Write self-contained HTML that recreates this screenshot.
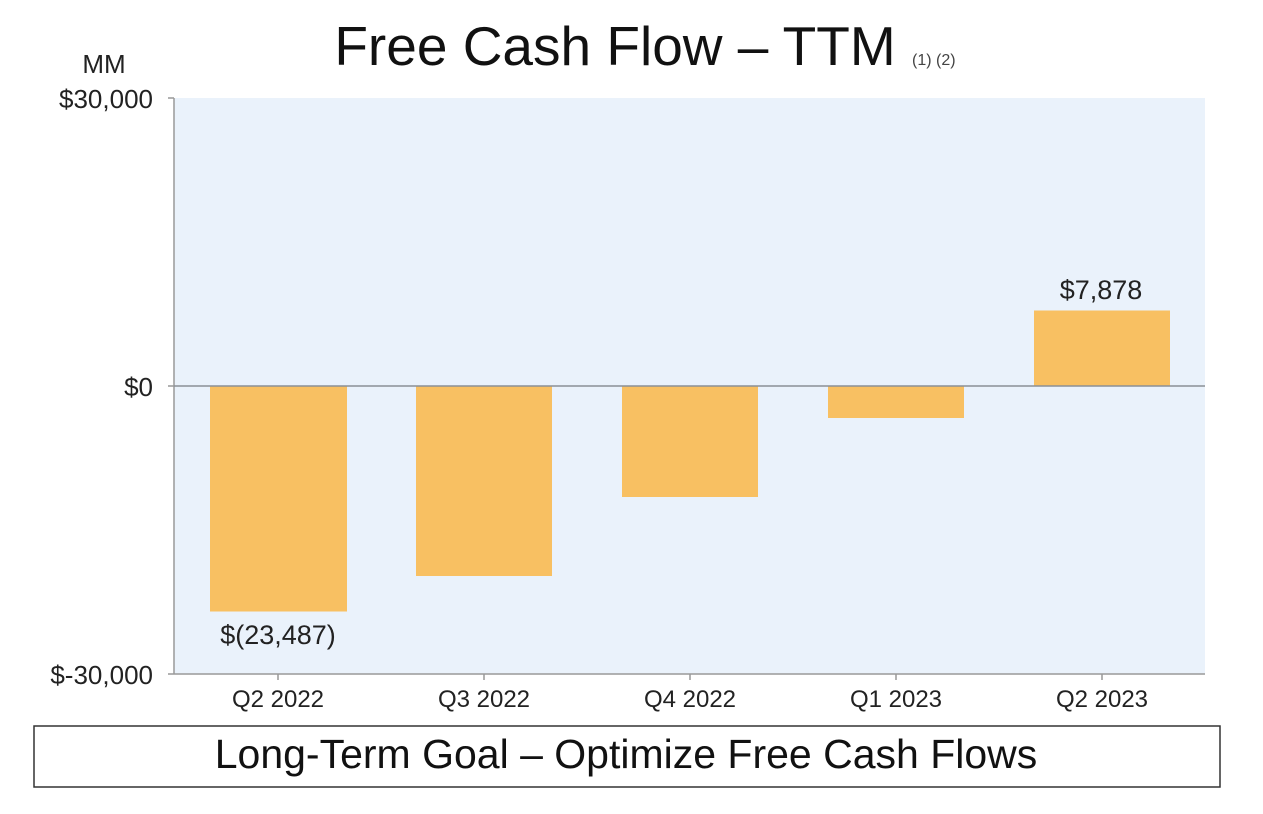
<!DOCTYPE html>
<html><head><meta charset="utf-8"><style>
html,body{margin:0;padding:0;background:#fff;}
svg{display:block;font-family:"Liberation Sans",Arial,sans-serif;}
</style></head><body>
<svg width="1263" height="814" viewBox="0 0 1263 814" xmlns="http://www.w3.org/2000/svg">
<rect x="0" y="0" width="1263" height="814" fill="#fff"/>
<text x="615" y="65" font-size="55" text-anchor="middle" fill="#111">Free Cash Flow – TTM</text>
<text x="912" y="65" font-size="16" fill="#444">(1) (2)</text>
<text x="104" y="73" font-size="26" text-anchor="middle" fill="#222">MM</text>
<rect x="174" y="98" width="1031" height="576" fill="#eaf2fb"/>
<line x1="174" y1="98" x2="174" y2="674" stroke="#999" stroke-width="1.5"/>
<line x1="168" y1="98" x2="174" y2="98" stroke="#999" stroke-width="1.5"/>
<line x1="168" y1="386" x2="174" y2="386" stroke="#999" stroke-width="1.5"/>
<line x1="168" y1="674" x2="1205" y2="674" stroke="#999" stroke-width="1.5"/>
<text x="153" y="108" font-size="26" text-anchor="end" fill="#222">$30,000</text>
<text x="153" y="396" font-size="26" text-anchor="end" fill="#222">$0</text>
<text x="153" y="684" font-size="26" text-anchor="end" fill="#222">$-30,000</text>
<g fill="#f8c062">
<rect x="210" y="386" width="137" height="225.5"/>
<rect x="416" y="386" width="136" height="190"/>
<rect x="622" y="386" width="136" height="111"/>
<rect x="828" y="386" width="136" height="32"/>
<rect x="1034" y="310.5" width="136" height="75.5"/>
</g>
<line x1="174" y1="386" x2="1205" y2="386" stroke="#8a8f96" stroke-width="1.5"/>
<text x="278" y="644" font-size="27" text-anchor="middle" fill="#222">$(23,487)</text>
<text x="1101" y="299" font-size="27" text-anchor="middle" fill="#222">$7,878</text>
<g stroke="#999" stroke-width="1.5">
<line x1="278" y1="674" x2="278" y2="680"/>
<line x1="484" y1="674" x2="484" y2="680"/>
<line x1="690" y1="674" x2="690" y2="680"/>
<line x1="896" y1="674" x2="896" y2="680"/>
<line x1="1102" y1="674" x2="1102" y2="680"/>
</g>
<g font-size="24" text-anchor="middle" fill="#222">
<text x="278" y="707">Q2 2022</text>
<text x="484" y="707">Q3 2022</text>
<text x="690" y="707">Q4 2022</text>
<text x="896" y="707">Q1 2023</text>
<text x="1102" y="707">Q2 2023</text>
</g>
<rect x="34" y="726" width="1186" height="61" fill="#fff" stroke="#333" stroke-width="1.5"/>
<text x="626" y="768" font-size="41" text-anchor="middle" fill="#111">Long-Term Goal – Optimize Free Cash Flows</text>
</svg>
</body></html>
